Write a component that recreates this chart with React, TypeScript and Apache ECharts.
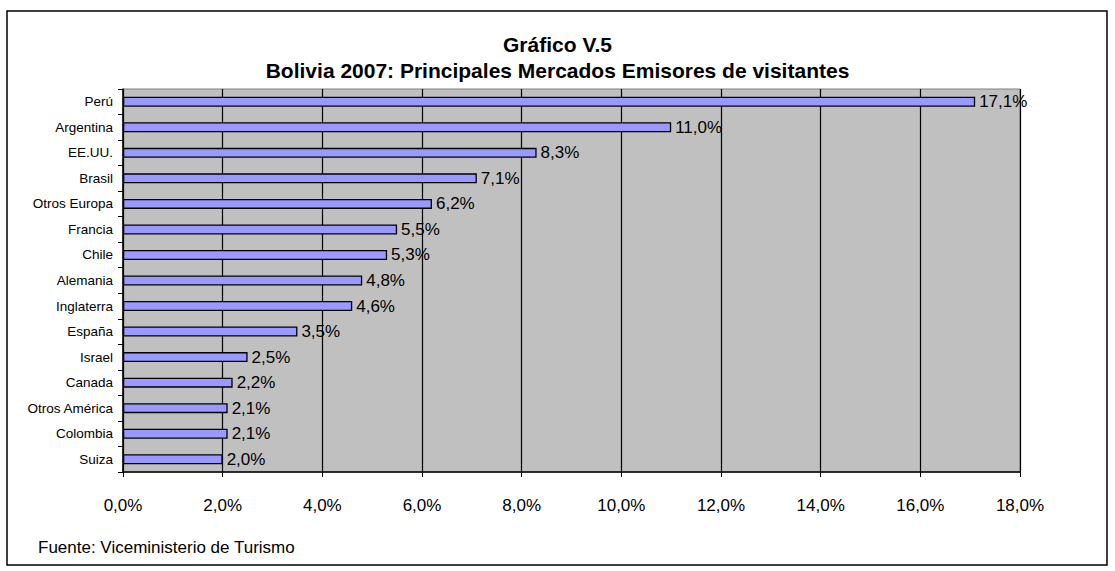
import React, { useEffect, useRef } from "react";
import * as echarts from "echarts";

const categories = ["Perú", "Argentina", "EE.UU.", "Brasil", "Otros Europa", "Francia", "Chile", "Alemania", "Inglaterra", "España", "Israel", "Canada", "Otros América", "Colombia", "Suiza"];
const values = [17.1, 11.0, 8.3, 7.1, 6.2, 5.5, 5.3, 4.8, 4.6, 3.5, 2.5, 2.2, 2.1, 2.1, 2.0];
const titleLines = ["Gráfico V.5", "Bolivia 2007: Principales Mercados Emisores de visitantes"];
const footer = "Fuente: Viceministerio de Turismo";

const fmt = (v: number) => v.toFixed(1).replace(".", ",") + "%";

export default function App() {
  const ref = useRef<HTMLDivElement>(null);
  useEffect(() => {
    const chart = echarts.init(ref.current!, null, { renderer: "svg" });
    const font = "Arial, 'Liberation Sans', sans-serif";
    chart.setOption({
      animation: false,
      backgroundColor: "#ffffff",
      textStyle: { fontFamily: font },
      title: {
        text: titleLines.join("\n"),
        left: "center",
        top: 26,
        textStyle: { fontSize: 21, fontWeight: "bold", color: "#000", lineHeight: 26, fontFamily: font },
      },
      grid: { left: 123, right: 95, top: 89, bottom: 99, backgroundColor: "#c0c0c0", show: true, borderColor: "#808080", borderWidth: 1 },
      xAxis: {
        type: "value",
        min: 0,
        max: 18,
        interval: 2,
        axisLine: { show: true, lineStyle: { color: "#000", width: 1.5 } },
        axisTick: { show: true, length: 5, lineStyle: { color: "#000" } },
        axisLabel: { formatter: (v: number) => fmt(v), fontSize: 17, color: "#000", margin: 25, fontFamily: font },
        splitLine: { show: true, lineStyle: { color: "#000", width: 1.2 } },
      },
      yAxis: {
        type: "category",
        data: categories,
        inverse: true,
        axisLine: { show: true, lineStyle: { color: "#000", width: 1.5 } },
        axisTick: { show: true, length: 5, lineStyle: { color: "#000" } },
        axisLabel: { fontSize: 13.5, color: "#000", margin: 10, fontFamily: font },
        splitLine: { show: false },
      },
      series: [
        {
          type: "bar",
          data: values,
          barWidth: 10,
          itemStyle: { color: "#9999ff", borderColor: "#000", borderWidth: 1.3 },
          label: { show: true, position: "right", distance: 4, formatter: (p: any) => fmt(p.value), fontSize: 17, color: "#000", fontFamily: font },
        },
      ],
      graphic: [
        { type: "rect", shape: { x: 7, y: 11, width: 1100, height: 554 }, style: { fill: "none", stroke: "#000", lineWidth: 1.5 }, silent: true },
        { type: "text", left: 38, top: 539, style: { text: footer, fontSize: 17, fill: "#000", fontFamily: font } },
      ],
    });
    return () => chart.dispose();
  }, []);
  return <div ref={ref} style={{ position: "fixed", left: 0, top: 0, width: 1115, height: 571 }} />;
}
